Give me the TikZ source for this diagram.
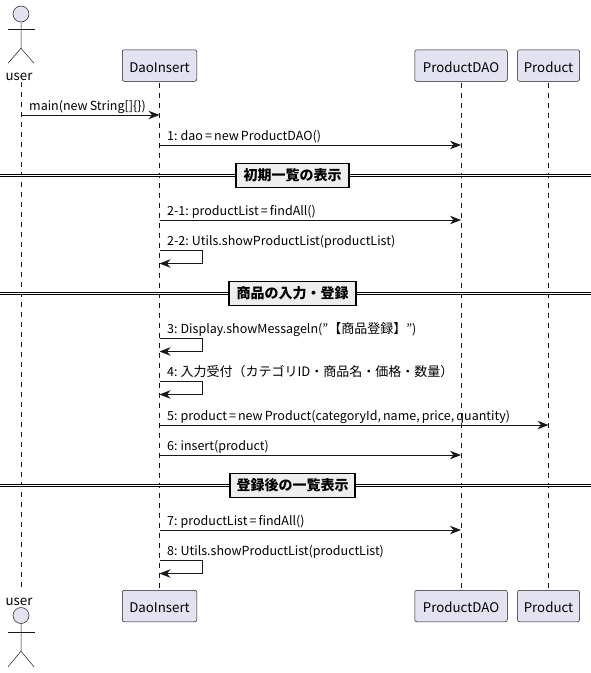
\documentclass[tikz,border=0pt]{standalone}
\usepackage{fontspec}
\setmainfont[WordSpace=0.75]{Noto Sans CJK JP}
\usetikzlibrary{arrows.meta}
\definecolor{partfill}{HTML}{E2E2F0}
\definecolor{partline}{HTML}{181818}
\definecolor{sepfill}{HTML}{EEEEEE}
\newcommand{\cjktext}[1]{{\fontsize{13}{14}\selectfont #1}}
\tikzset{
    part/.style={draw=partline,fill=partfill,rounded corners=2pt,line width=0.5pt,minimum height=31.5pt,inner sep=0pt,text height=14pt,text depth=1pt,font=\fontsize{13.3}{16}\selectfont},
    life/.style={draw=partline,line width=0.5pt,dash pattern=on 5pt off 5pt},
    msg/.style={draw=partline,line width=1pt,-{Stealth[length=11pt,width=8.5pt,inset=3.5pt]}},
    msgtext/.style={anchor=base west,inner sep=0pt,font=\fontsize{12.5}{14}\selectfont},
    sep/.style={draw=black,line width=1.5pt,fill=sepfill,minimum height=24pt,inner sep=0pt,font=\fontsize{14}{14}\selectfont\bfseries},
    sepline/.style={draw=black,line width=0.8pt,double=white,double distance=1.6pt},
    actorhead/.style={circle,draw=partline,fill=partfill,line width=0.5pt,minimum size=16pt,inner sep=0pt},
    actorline/.style={draw=partline,line width=0.5pt},
    usertext/.style={inner sep=0pt,font=\fontsize{13.3}{16}\selectfont}
}
\begin{document}
\begin{tikzpicture}[x=1pt,y=-1pt]
    \useasboundingbox (0,0) rectangle (591,673);
    % participants
    \node[actorhead] (userhead) at (21,14) {};
    \node[usertext] (usertop) at (19,76.5) {user};
    \node[part,minimum width=74.5pt] (dao) at (159.5,65.5) {DaoInsert};
    \node[part,minimum width=92.5pt] (pdao) at (461,65.5) {ProductDAO};
    \node[part,minimum width=62pt] (prod) at (548.5,65.5) {Product};
    \node[actorhead] (userfoot) at (21,615.5) {};
    \node[usertext] (userbot) at (19,601.5) {user};
    \node[part,minimum width=74.5pt] (daob) at (159.5,606) {DaoInsert};
    \node[part,minimum width=92.5pt] (pdaob) at (461,606) {ProductDAO};
    \node[part,minimum width=62pt] (prodb) at (548.5,606) {Product};
    % lifelines
    \draw[life] (userhead |- 0,82) -- (userhead |- 0,587);
    \foreach \top/\bot in {dao/daob,pdao/pdaob,prod/prodb}
        \draw[life] (\top.south) ++(0,1) -- ([yshift=1pt]\bot.north);
    % actors
    \draw[actorline] (userhead.south) -- ++(0,26) ++(-13,15) -- ++(13,-15) -- ++(13,15);
    \draw[actorline] (8,29) -- (35,29);
    \draw[actorline] (userfoot.south) -- ++(0,27.5) ++(-13,15.5) -- ++(13,-15.5) -- ++(13,15.5);
    \draw[actorline] (8,632) -- (35,632);
    % separators
    \foreach \nam/\ypos/\wid/\txt in {first/175.5/113/初期一覧の表示,second/293.5/127/商品の入力・登録,third/485.5/125/登録後の一覧表示} {
        \coordinate (\nam l) at (0,\ypos);
        \coordinate (\nam r) at (591,\ypos);
        \draw[sepline] (\nam l) -- (\nam r);
        \node[sep,minimum width=\wid pt] (\nam) at (292.5,\ypos) {\txt};
    }
    % messages
    \draw[msg] (userhead |- 0,115) -- (dao |- 0,115);
    \node[msgtext] (mmain) at (29,110) {main(new String[]\{\})};
    \foreach \nam/\ypos/\dest/\txt in {a/145/pdao/{1: dao = new ProductDAO()},
        b/220/pdao/{2-1: productList = findAll()},
        e/425/prod/{5: product = new Product(categoryId, name, price, quantity)},
        f/455/pdao/{6: insert(product)},
        g/530/pdao/{7: productList = findAll()}} {
        \draw[msg] (dao |- 0,\ypos) -- (\dest |- 0,\ypos);
        \node[msgtext] (m\nam) at (167,\ypos-5) {\txt};
    }
    % self messages
    \foreach \nam/\ypos/\txt in {c/250/{2-2: Utils.showProductList(productList)},
        h/338/{3: Display.showMessageln(\char34\cjktext{【商品登録】}\char34)},
        i/381/{4: \cjktext{入力受付（カテゴリID・商品名・価格・数量）}},
        j/560/{8: Utils.showProductList(productList)}} {
        \draw[msg] (dao |- 0,\ypos) -- ++(43,0) -- ++(0,13.5) -- (dao |- 0,\ypos+13.5);
        \node[msgtext] (m\nam) at (167,\ypos-5) {\txt};
    }
\end{tikzpicture}
\end{document}
